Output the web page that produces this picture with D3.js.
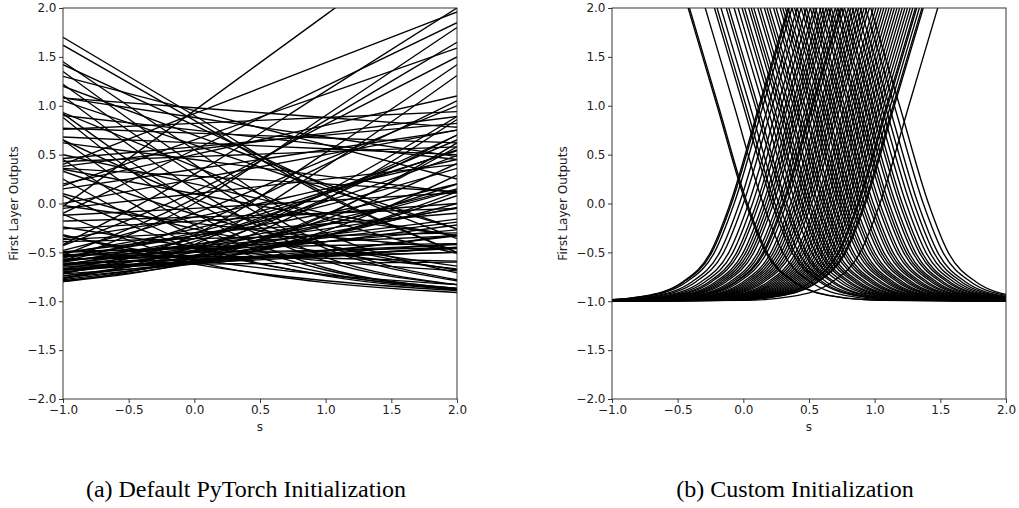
<!DOCTYPE html>
<html>
<head>
<meta charset="utf-8">
<script src="https://cdn.jsdelivr.net/npm/d3@7"></script>
<style>
  html, body { margin: 0; padding: 0; background: #fff; }
  svg { display: block; }
  .tick text { font-family: "DejaVu Sans", sans-serif; font-size: 12px; fill: #222; }
  .axis-label { font-family: "DejaVu Sans", sans-serif; font-size: 12px; fill: #222; }
  .caption { font-family: "Liberation Serif", "Times New Roman", serif; font-size: 24px; fill: #000; }
</style>
</head>
<body>
<svg id="chart" width="1019" height="508"></svg>
<script>
// ---- axis ticks and labels ----
const xTicks = [-1, -0.5, 0, 0.5, 1, 1.5, 2];
const yTicks = [-2, -1.5, -1, -0.5, 0, 0.5, 1, 1.5, 2];
const xLabel = "s";
const yLabel = "First Layer Outputs";
const captions = ["(a) Default PyTorch Initialization", "(b) Custom Initialization"];

// ---- (a) default initialization: each unit's output sampled at these inputs ----
const sGrid = [-1, 0, 1, 2];
const defaultOutputs = [
  [1.70, 0.90, 0.10, -0.50], [1.62, 0.85, 0.08, -0.50], [1.45, 0.55, -0.30, -0.71],
  [1.42, 0.80, 0.18, -0.36], [1.35, 0.40, -0.42, -0.78], [1.30, 0.95, 0.60, 0.25],
  [1.22, 0.30, -0.46, -0.79], [1.20, 0.70, 0.20, -0.26], [1.10, 0.15, -0.55, -0.83],
  [1.08, 0.88, 0.68, 0.48], [1.05, 0.60, 0.15, -0.26], [0.92, 0.02, -0.59, -0.83],
  [0.90, 0.75, 0.60, 0.45], [0.88, -0.10, -0.66, -0.87], [0.68, 0.62, 0.56, 0.50],
  [0.65, -0.22, -0.68, -0.87], [0.62, 0.45, 0.28, 0.11], [1.08, 0.98, 0.88, 0.78],
  [0.50, 0.20, -0.10, -0.33], [0.45, -0.33, -0.71, -0.88], [0.38, 0.55, 0.72, 0.89],
  [0.35, 0.10, -0.14, -0.33], [0.40, 0.92, 1.44, 1.96], [0.25, -0.42, -0.74, -0.88],
  [0.20, 0.50, 0.80, 1.10], [0.15, 0.35, 0.55, 0.75], [0.10, -0.26, -0.50, -0.67],
  [-0.05, 0.10, 0.25, 0.40], [-0.03, 0.95, 1.93, 2.91], [0.00, 0.25, 0.50, 0.75],
  [-0.10, 0.55, 1.20, 1.85], [-0.12, -0.05, 0.03, 0.11], [-0.49, -0.46, -0.43, -0.41],
  [-0.26, -0.18, -0.10, 0.00], [-0.18, -0.14, -0.10, -0.05], [-0.42, 0.30, 1.15, 2.00],
  [-0.39, -0.36, -0.33, -0.30], [-0.43, 0.12, 0.81, 1.50], [-0.37, -0.30, -0.21, -0.10],
  [-0.36, -0.14, 0.15, 0.45], [-0.48, -0.10, 0.45, 1.00], [-0.57, -0.53, -0.48, -0.42],
  [-0.50, -0.45, -0.39, -0.33], [-0.51, -0.26, 0.12, 0.54], [-0.53, 0.05, 0.85, 1.65],
  [-0.53, -0.50, -0.48, -0.45], [-0.54, -0.33, -0.02, 0.36], [-0.67, -0.60, -0.51, -0.41],
  [-0.55, -0.42, -0.26, -0.05], [-0.58, -0.49, -0.39, -0.27], [-0.57, -0.55, -0.53, -0.50],
  [-0.50, -0.33, -0.10, 0.20], [-0.58, -0.48, -0.35, -0.19], [-0.59, 0.00, 0.90, 1.80],
  [-0.60, -0.36, 0.02, 0.49], [-0.61, -0.57, -0.54, -0.50], [-0.59, -0.22, 0.40, 1.05],
  [-0.62, -0.45, -0.21, 0.14], [-0.62, -0.57, -0.52, -0.46], [-0.63, -0.53, -0.39, -0.22],
  [-0.52, -0.54, -0.56, -0.59], [-0.65, -0.59, -0.53, -0.45], [-0.59, -0.42, -0.18, 0.15],
  [-0.67, -0.39, 0.10, 0.70], [-0.68, -0.61, -0.54, -0.45], [-0.68, -0.50, -0.22, 0.20],
  [-0.63, -0.62, -0.61, -0.60], [-0.70, -0.55, -0.33, 0.00], [-0.54, -0.44, -0.32, -0.16],
  [-0.71, -0.45, 0.05, 0.70], [-0.72, -0.62, -0.49, -0.32], [-0.72, -0.32, 0.52, 1.42],
  [-0.74, -0.53, -0.16, 0.41], [-0.74, -0.59, -0.33, 0.08], [-0.63, -0.36, 0.10, 0.65],
  [-0.76, -0.48, 0.12, 0.89], [-0.76, -0.60, -0.33, 0.12], [-0.77, -0.42, 0.38, 1.31],
  [-0.78, -0.56, -0.11, 0.58], [-0.68, -0.59, -0.48, -0.33], [-0.79, -0.61, -0.28, 0.29],
  [-0.80, -0.54, 0.04, 0.86], [-0.80, -0.59, -0.12, 0.62], [-0.55, -0.30, 0.10, 0.55],
  [-0.11, -0.59, -0.81, -0.91], [0.08, -0.46, -0.73, -0.87], [-0.33, -0.57, -0.73, -0.83],
  [-0.32, -0.62, -0.79, -0.89], [0.93, 0.38, -0.16, -0.51], [0.65, 0.05, -0.42, -0.68],
  [0.77, 0.72, 0.67, 0.62], [0.43, 0.48, 0.53, 0.58], [0.33, -0.11, -0.43, -0.64],
  [0.36, 0.28, 0.20, 0.12], [-0.02, -0.20, -0.34, -0.46], [0.18, 0.65, 1.12, 1.59],
  [0.76, 0.82, 0.88, 0.94], [-0.24, -0.44, -0.59, -0.69], [0.46, 0.58, 0.70, 0.82],
  [-0.63, -0.49, -0.30, -0.04]
];

// ---- (b) custom initialization: input s at which each unit crosses the given output levels ----
const floorLevel = -1;
const risingLevels = [-0.99, -0.95, -0.8, -0.5, 0, 1, 2];
const fallingLevels = [2, 1, 0, -0.5, -0.8, -0.95, -0.99];
const customRising = [
  [-1.12, -0.77, -0.46, -0.25, -0.10, 0.12, 0.34], [-1.11, -0.76, -0.45, -0.24, -0.09, 0.13, 0.35],
  [-1.09, -0.74, -0.43, -0.22, -0.07, 0.15, 0.37], [-1.05, -0.70, -0.39, -0.18, -0.03, 0.19, 0.41],
  [-1.02, -0.67, -0.36, -0.15, 0.00, 0.22, 0.44], [-0.98, -0.63, -0.32, -0.11, 0.04, 0.26, 0.48],
  [-0.95, -0.60, -0.29, -0.08, 0.07, 0.29, 0.51], [-0.92, -0.57, -0.26, -0.05, 0.10, 0.32, 0.54],
  [-0.90, -0.55, -0.24, -0.03, 0.12, 0.34, 0.56], [-0.87, -0.52, -0.21, 0.00, 0.15, 0.37, 0.59],
  [-0.85, -0.50, -0.19, 0.02, 0.17, 0.39, 0.61], [-0.83, -0.48, -0.17, 0.04, 0.19, 0.41, 0.63],
  [-0.81, -0.46, -0.15, 0.06, 0.21, 0.43, 0.65], [-0.79, -0.44, -0.13, 0.08, 0.23, 0.45, 0.67],
  [-0.76, -0.41, -0.10, 0.11, 0.26, 0.48, 0.70], [-0.74, -0.39, -0.08, 0.13, 0.28, 0.50, 0.72],
  [-0.72, -0.37, -0.06, 0.15, 0.30, 0.52, 0.74], [-0.71, -0.36, -0.05, 0.16, 0.31, 0.53, 0.75],
  [-0.69, -0.34, -0.03, 0.18, 0.33, 0.55, 0.77], [-0.66, -0.31, 0.00, 0.21, 0.36, 0.58, 0.80],
  [-0.64, -0.29, 0.02, 0.23, 0.38, 0.60, 0.82], [-0.62, -0.27, 0.04, 0.25, 0.40, 0.62, 0.84],
  [-0.60, -0.25, 0.06, 0.27, 0.42, 0.64, 0.86], [-0.58, -0.23, 0.08, 0.29, 0.44, 0.66, 0.88],
  [-0.56, -0.21, 0.10, 0.31, 0.46, 0.68, 0.90], [-0.54, -0.19, 0.12, 0.33, 0.48, 0.70, 0.92],
  [-0.52, -0.17, 0.14, 0.35, 0.50, 0.72, 0.94], [-0.50, -0.15, 0.16, 0.37, 0.52, 0.74, 0.96],
  [-0.47, -0.12, 0.19, 0.40, 0.55, 0.77, 0.99], [-0.45, -0.10, 0.21, 0.42, 0.57, 0.79, 1.01],
  [-0.43, -0.08, 0.23, 0.44, 0.59, 0.81, 1.03], [-0.41, -0.06, 0.25, 0.46, 0.61, 0.83, 1.05],
  [-0.39, -0.04, 0.27, 0.48, 0.63, 0.85, 1.07], [-0.37, -0.02, 0.29, 0.50, 0.65, 0.87, 1.09],
  [-0.35, 0.00, 0.31, 0.52, 0.67, 0.89, 1.11], [-0.33, 0.02, 0.33, 0.54, 0.69, 0.91, 1.13],
  [-0.31, 0.04, 0.35, 0.56, 0.71, 0.93, 1.15], [-0.29, 0.06, 0.37, 0.58, 0.73, 0.95, 1.17],
  [-0.27, 0.08, 0.39, 0.60, 0.75, 0.97, 1.19], [-0.25, 0.10, 0.41, 0.62, 0.77, 0.99, 1.21],
  [-0.23, 0.12, 0.43, 0.64, 0.79, 1.01, 1.23], [-0.21, 0.14, 0.45, 0.66, 0.81, 1.03, 1.25],
  [-0.19, 0.16, 0.47, 0.68, 0.83, 1.05, 1.27], [-0.17, 0.18, 0.49, 0.70, 0.85, 1.07, 1.29],
  [-0.15, 0.20, 0.51, 0.72, 0.87, 1.09, 1.31], [-0.14, 0.21, 0.52, 0.73, 0.88, 1.10, 1.32],
  [-0.12, 0.23, 0.54, 0.75, 0.90, 1.12, 1.34], [-0.10, 0.25, 0.56, 0.77, 0.92, 1.14, 1.36],
  [-0.09, 0.26, 0.57, 0.78, 0.93, 1.15, 1.37], [0.02, 0.37, 0.68, 0.89, 1.04, 1.26, 1.48]
];
const customFalling = [
  [-0.42, -0.20, 0.02, 0.17, 0.38, 0.69, 1.04], [-0.41, -0.19, 0.03, 0.18, 0.39, 0.70, 1.05],
  [-0.29, -0.07, 0.15, 0.30, 0.51, 0.82, 1.17], [-0.22, 0.00, 0.22, 0.37, 0.58, 0.89, 1.24],
  [-0.20, 0.02, 0.24, 0.39, 0.60, 0.91, 1.26], [-0.17, 0.05, 0.27, 0.42, 0.63, 0.94, 1.29],
  [-0.13, 0.09, 0.31, 0.46, 0.67, 0.98, 1.33], [-0.11, 0.11, 0.33, 0.48, 0.69, 1.00, 1.35],
  [-0.07, 0.15, 0.37, 0.52, 0.73, 1.04, 1.39], [-0.04, 0.18, 0.40, 0.55, 0.76, 1.07, 1.42],
  [-0.01, 0.21, 0.43, 0.58, 0.79, 1.10, 1.45], [0.01, 0.23, 0.45, 0.60, 0.81, 1.12, 1.47],
  [0.04, 0.26, 0.48, 0.63, 0.84, 1.15, 1.50], [0.06, 0.28, 0.50, 0.65, 0.86, 1.17, 1.52],
  [0.08, 0.30, 0.52, 0.67, 0.88, 1.19, 1.54], [0.11, 0.33, 0.55, 0.70, 0.91, 1.22, 1.57],
  [0.13, 0.35, 0.57, 0.72, 0.93, 1.24, 1.59], [0.16, 0.38, 0.60, 0.75, 0.96, 1.27, 1.62],
  [0.18, 0.40, 0.62, 0.77, 0.98, 1.29, 1.64], [0.20, 0.42, 0.64, 0.79, 1.00, 1.31, 1.66],
  [0.23, 0.45, 0.67, 0.82, 1.03, 1.34, 1.69], [0.25, 0.47, 0.69, 0.84, 1.05, 1.36, 1.71],
  [0.28, 0.50, 0.72, 0.87, 1.08, 1.39, 1.74], [0.30, 0.52, 0.74, 0.89, 1.10, 1.41, 1.76],
  [0.32, 0.54, 0.76, 0.91, 1.12, 1.43, 1.78], [0.34, 0.56, 0.78, 0.93, 1.14, 1.45, 1.80],
  [0.37, 0.59, 0.81, 0.96, 1.17, 1.48, 1.83], [0.39, 0.61, 0.83, 0.98, 1.19, 1.50, 1.85],
  [0.41, 0.63, 0.85, 1.00, 1.21, 1.52, 1.87], [0.44, 0.66, 0.88, 1.03, 1.24, 1.55, 1.90],
  [0.46, 0.68, 0.90, 1.05, 1.26, 1.57, 1.92], [0.48, 0.70, 0.92, 1.07, 1.28, 1.59, 1.94],
  [0.51, 0.73, 0.95, 1.10, 1.31, 1.62, 1.97], [0.53, 0.75, 0.97, 1.12, 1.33, 1.64, 1.99],
  [0.55, 0.77, 0.99, 1.14, 1.35, 1.66, 2.01], [0.58, 0.80, 1.02, 1.17, 1.38, 1.69, 2.04],
  [0.60, 0.82, 1.04, 1.19, 1.40, 1.71, 2.06], [0.63, 0.85, 1.07, 1.22, 1.43, 1.74, 2.09],
  [0.65, 0.87, 1.09, 1.24, 1.45, 1.76, 2.11], [0.67, 0.89, 1.11, 1.26, 1.47, 1.78, 2.13],
  [0.70, 0.92, 1.14, 1.29, 1.50, 1.81, 2.16], [0.72, 0.94, 1.16, 1.31, 1.52, 1.83, 2.18],
  [0.75, 0.97, 1.19, 1.34, 1.55, 1.86, 2.21], [0.77, 0.99, 1.21, 1.36, 1.57, 1.88, 2.23],
  [0.80, 1.02, 1.24, 1.39, 1.60, 1.91, 2.26], [0.83, 1.05, 1.27, 1.42, 1.63, 1.94, 2.29],
  [0.86, 1.08, 1.30, 1.45, 1.66, 1.97, 2.32], [0.89, 1.11, 1.33, 1.48, 1.69, 2.00, 2.35],
  [0.93, 1.15, 1.37, 1.52, 1.73, 2.04, 2.39], [0.97, 1.19, 1.41, 1.56, 1.77, 2.08, 2.43]
];

// ---- layout ----
const svg = d3.select("#chart");
const panels = [
  { left: 63, right: 457, id: "clipA" },
  { left: 612, right: 1006, id: "clipB" }
];
const plotTop = 8, plotBottom = 399;
const xDomain = [-1, 2], yDomain = [-2, 2];
const fmt = d3.format(".1f");

function drawPanel(p, series, caption) {
  const x = d3.scaleLinear().domain(xDomain).range([p.left, p.right]);
  const y = d3.scaleLinear().domain(yDomain).range([plotBottom, plotTop]);

  svg.append("clipPath").attr("id", p.id)
    .append("rect")
    .attr("x", p.left).attr("y", plotTop)
    .attr("width", p.right - p.left).attr("height", plotBottom - plotTop);

  const line = d3.line()
    .x(d => x(d[0])).y(d => y(d[1]))
    .curve(d3.curveMonotoneX);

  svg.append("g")
    .attr("clip-path", `url(#${p.id})`)
    .selectAll("path")
    .data(series)
    .join("path")
    .attr("d", line)
    .attr("fill", "none")
    .attr("stroke", "#000")
    .attr("stroke-width", 1.35);

  // axes
  const xAxis = d3.axisBottom(x).tickValues(xTicks).tickFormat(fmt).tickSize(4).tickPadding(2.5);
  const yAxis = d3.axisLeft(y).tickValues(yTicks).tickFormat(fmt).tickSize(4).tickPadding(2.5);
  const gx = svg.append("g").attr("transform", `translate(0,${plotBottom})`).call(xAxis);
  const gy = svg.append("g").attr("transform", `translate(${p.left},0)`).call(yAxis);
  [gx, gy].forEach(g => {
    g.select(".domain").remove();
    g.selectAll(".tick line").attr("stroke", "#222").attr("stroke-width", 0.9);
  });

  // frame
  svg.append("rect")
    .attr("x", p.left).attr("y", plotTop)
    .attr("width", p.right - p.left).attr("height", plotBottom - plotTop)
    .attr("fill", "none").attr("stroke", "#222").attr("stroke-width", 0.9);

  svg.append("text").attr("class", "axis-label")
    .attr("x", (p.left + p.right) / 2).attr("y", 431)
    .attr("text-anchor", "middle").text(xLabel);

  svg.append("text").attr("class", "axis-label")
    .attr("transform", `translate(${p.left - 45},${(plotTop + plotBottom) / 2}) rotate(-90)`)
    .attr("text-anchor", "middle").text(yLabel);

  svg.append("text").attr("class", "caption")
    .attr("x", (p.left + p.right) / 2 - 14).attr("y", 497)
    .attr("text-anchor", "middle").text(caption);
}

// (a) outputs sampled on the input grid
const seriesA = defaultOutputs.map(v => v.map((val, i) => [sGrid[i], val]));

// (b) rising units rest on the floor to the left, falling units to the right
const seriesB = [
  ...customRising.map(c => [[xDomain[0] - 1, floorLevel], ...c.map((s, i) => [s, risingLevels[i]])]),
  ...customFalling.map(c => [...c.map((s, i) => [s, fallingLevels[i]]), [xDomain[1] + 1, floorLevel]])
];

drawPanel(panels[0], seriesA, captions[0]);
drawPanel(panels[1], seriesB, captions[1]);
</script>
</body>
</html>
